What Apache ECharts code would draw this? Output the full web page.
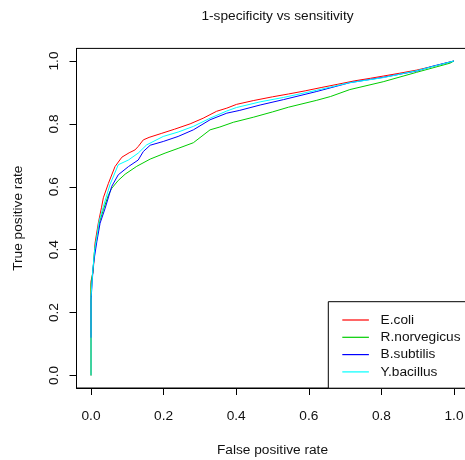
<!DOCTYPE html>
<html>
<head>
<meta charset="utf-8">
<script src="https://cdn.jsdelivr.net/npm/echarts@6/dist/echarts.min.js"></script>
<style>html,body{margin:0;padding:0;background:#fff}#c{width:465px;height:460px}</style>
</head>
<body>
<div id="c"></div>
<script>
const seriesNames = ["E.coli", "R.norvegicus", "B.subtilis", "Y.bacillus"];
const seriesColors = ["#FF0000", "#00CD00", "#0000FF", "#00FFFF"];

const ecoliFpr = [0,0,0.006,0.011,0.020,0.029,0.034,0.048,0.066,0.085,0.105,0.121,0.130,0.144,0.160,0.195,0.230,0.273,0.309,0.346,0.374,0.401,0.447,0.50,0.544,0.59,0.636,0.68,0.727,0.77,0.805,0.85,0.897,0.95,1];
const ecoliTpr = [0,0.30,0.33,0.42,0.484,0.535,0.565,0.611,0.664,0.694,0.708,0.717,0.728,0.749,0.757,0.770,0.783,0.800,0.818,0.840,0.850,0.862,0.874,0.886,0.895,0.905,0.916,0.926,0.937,0.945,0.952,0.961,0.971,0.985,1];

const rnorFpr = [0,0,0.005,0.010,0.016,0.024,0.034,0.048,0.057,0.075,0.094,0.126,0.163,0.204,0.240,0.282,0.328,0.355,0.392,0.447,0.50,0.544,0.622,0.66,0.713,0.805,0.897,0.989,1];
const rnorTpr = [0,0.29,0.33,0.40,0.44,0.49,0.527,0.574,0.595,0.620,0.640,0.665,0.688,0.707,0.722,0.740,0.781,0.790,0.805,0.821,0.838,0.853,0.875,0.887,0.909,0.934,0.964,0.993,1];

const bsubFpr = [0,0,0.006,0.010,0.016,0.025,0.039,0.057,0.075,0.103,0.130,0.144,0.163,0.199,0.240,0.282,0.328,0.374,0.410,0.466,0.53,0.622,0.713,0.805,0.897,0.943,1];
const bsubTpr = [0.12,0.24,0.346,0.38,0.425,0.484,0.532,0.601,0.638,0.664,0.685,0.712,0.732,0.744,0.760,0.781,0.813,0.834,0.843,0.860,0.877,0.903,0.931,0.948,0.968,0.984,1];

const ybacFpr = [0,0,0.004,0.010,0.016,0.022,0.034,0.052,0.075,0.103,0.130,0.153,0.199,0.240,0.282,0.328,0.374,0.401,0.466,0.53,0.622,0.713,0.805,0.897,1];
const ybacTpr = [0,0.25,0.32,0.40,0.44,0.49,0.537,0.606,0.670,0.685,0.707,0.733,0.760,0.774,0.792,0.818,0.841,0.852,0.870,0.884,0.907,0.931,0.947,0.969,1];

const xTicks = [0, 0.2, 0.4, 0.6, 0.8, 1.0];
const yTicks = [0, 0.2, 0.4, 0.6, 0.8, 1.0];
const tickLabels = ["0.0", "0.2", "0.4", "0.6", "0.8", "1.0"];

const titleText = "1-specificity vs sensitivity";
const xTitle = "False positive rate";
const yTitle = "True positive rate";

const FONT = "'Liberation Sans', Arial, sans-serif";
const FS = 13.7;
const TXT = "#111";

function pairs(xs, ys) { return xs.map((x, i) => [x, ys[i]]); }
const allX = [ecoliFpr, rnorFpr, bsubFpr, ybacFpr];
const allY = [ecoliTpr, rnorTpr, bsubTpr, ybacTpr];

const labelFmt = v => { const i = xTicks.findIndex(t => Math.abs(t - v) < 1e-9); return i >= 0 ? tickLabels[i] : ''; };

const chart = echarts.init(document.getElementById('c'), null, {renderer: 'canvas'});
chart.setOption({
  animation: false,
  backgroundColor: '#fff',
  title: {
    text: titleText, left: 272.5, top: 4, textAlign: 'center',
    textStyle: {fontFamily: FONT, fontSize: FS, fontWeight: 'normal', color: TXT}
  },
  grid: {
    left: 76.5, top: 48.4, width: 392, height: 339.6,
    outerBoundsMode: 'none', containLabel: false,
    show: true, borderColor: '#000', borderWidth: 1, backgroundColor: 'transparent'
  },
  legend: {
    orient: 'vertical', left: 328.3, top: 301.7,
    padding: [11.3, 40, 9.3, 13.4],
    itemWidth: 26.6, itemHeight: 14, itemGap: 3.3,
    borderColor: '#000', borderWidth: 1, backgroundColor: '#fff',
    itemStyle: {opacity: 0},
    lineStyle: {width: 1.2},
    textStyle: {fontFamily: FONT, fontSize: FS, color: TXT, padding: [0, 0, 0, 6.7]},
    data: seriesNames
  },
  xAxis: {
    type: 'value', min: -0.04, max: 1.04,
    name: xTitle, nameLocation: 'middle', nameGap: 55,
    nameTextStyle: {fontFamily: FONT, fontSize: FS, color: TXT},
    axisLine: {show: true, onZero: false, lineStyle: {color: '#000', width: 1}},
    axisTick: {show: true, inside: false, length: 7, lineStyle: {color: '#000'}, customValues: xTicks},
    axisLabel: {show: true, margin: 21, fontFamily: FONT, fontSize: FS, color: TXT, customValues: xTicks, formatter: labelFmt},
    splitLine: {show: false}
  },
  yAxis: {
    type: 'value', min: -0.04, max: 1.04,
    name: yTitle, nameLocation: 'middle', nameGap: 51,
    nameTextStyle: {fontFamily: FONT, fontSize: FS, color: TXT},
    axisLine: {show: true, onZero: false, lineStyle: {color: '#000', width: 1}},
    axisTick: {show: true, inside: false, length: 7, lineStyle: {color: '#000'}, customValues: yTicks},
    axisLabel: {show: true, rotate: 90, margin: 15, fontFamily: FONT, fontSize: FS, color: TXT, customValues: yTicks, formatter: labelFmt},
    splitLine: {show: false}
  },
  series: seriesNames.map((n, i) => ({
    name: n, type: 'line', symbol: 'none', showSymbol: false,
    data: pairs(allX[i], allY[i]),
    lineStyle: {color: seriesColors[i], width: 1},
    itemStyle: {color: seriesColors[i]},
    z: 2 + i
  }))
});
</script>
</body>
</html>
